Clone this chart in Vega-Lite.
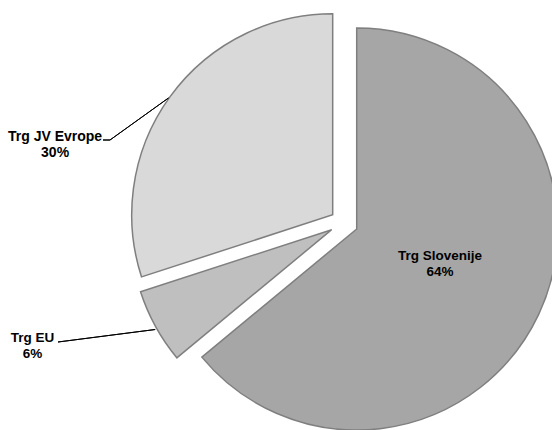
{
  "$schema": "https://vega.github.io/schema/vega-lite/v6.json",
  "width": 552,
  "height": 430,
  "padding": 0,
  "autosize": {"type": "none"},
  "background": "white",
  "config": {
    "view": {"stroke": null},
    "text": {"font": "Liberation Sans", "fontWeight": "bold", "fontSize": 13.5, "lineHeight": 16, "color": "#000000"}
  },
  "data": {
    "values": [
      {"market": "Trg Slovenije", "share": 64, "order": 1},
      {"market": "Trg EU", "share": 6, "order": 2},
      {"market": "Trg JV Evrope", "share": 30, "order": 3}
    ]
  },
  "transform": [
    {"stack": "share", "groupby": [], "sort": [{"field": "order", "order": "ascending"}], "as": ["start", "end"]},
    {"calculate": "(datum.start + datum.end) / 2", "as": "mid"},
    {"calculate": "[datum.market, datum.share + '%']", "as": "lines"}
  ],
  "layer": [
    {
      "transform": [{"filter": "datum.market === 'Trg Slovenije'"}],
      "layer": [
        {
          "mark": {"type": "arc", "radius": 201, "fill": "#a6a6a6", "stroke": "#7f7f7f", "strokeWidth": 1.5, "xOffset": 80.7, "yOffset": 14},
          "encoding": {
            "theta": {"field": "start", "type": "quantitative", "stack": null, "scale": {"domain": [0, 100]}},
            "theta2": {"field": "end"}
          }
        },
        {
          "mark": {"type": "text", "radius": 91, "xOffset": 80.7, "yOffset": 14, "dx": 1, "dy": -12, "align": "center", "baseline": "middle"},
          "encoding": {
            "theta": {"field": "mid", "type": "quantitative", "stack": null, "scale": {"domain": [0, 100]}},
            "text": {"field": "lines"}
          }
        }
      ]
    },
    {
      "transform": [{"filter": "datum.market === 'Trg EU'"}],
      "layer": [
        {
          "mark": {"type": "arc", "radius": 201, "fill": "#bfbfbf", "stroke": "#7f7f7f", "strokeWidth": 1.5, "xOffset": 55.7, "yOffset": 14.7},
          "encoding": {
            "theta": {"field": "start", "type": "quantitative", "stack": null, "scale": {"domain": [0, 100]}},
            "theta2": {"field": "end"}
          }
        },
        {
          "mark": {"type": "text", "radius": 201, "xOffset": 55.7, "yOffset": 14.7, "dx": -123, "dy": 11, "align": "center", "baseline": "middle"},
          "encoding": {
            "theta": {"field": "mid", "type": "quantitative", "stack": null, "scale": {"domain": [0, 100]}},
            "text": {"field": "lines"}
          }
        },
        {
          "mark": {"type": "arc", "theta": 1.443, "theta2": 1.443, "radius": 98, "radius2": 0, "fill": null, "stroke": "#000000", "strokeWidth": 1, "xOffset": -218, "yOffset": 127},
          "encoding": {}
        }
      ]
    },
    {
      "transform": [{"filter": "datum.market === 'Trg JV Evrope'"}],
      "layer": [
        {
          "mark": {"type": "arc", "radius": 201, "fill": "#d9d9d9", "stroke": "#7f7f7f", "strokeWidth": 1.5, "xOffset": 56.7, "yOffset": -0.2},
          "encoding": {
            "theta": {"field": "start", "type": "quantitative", "stack": null, "scale": {"domain": [0, 100]}},
            "theta2": {"field": "end"}
          }
        },
        {
          "mark": {"type": "text", "radius": 201, "xOffset": 56.7, "yOffset": -0.2, "dx": -115, "dy": 40, "align": "center", "baseline": "middle", "fontSize": 14},
          "encoding": {
            "theta": {"field": "mid", "type": "quantitative", "stack": null, "scale": {"domain": [0, 100]}},
            "text": {"field": "lines"}
          }
        },
        {
          "mark": {"type": "arc", "theta": 0.948, "theta2": 0.948, "radius": 72, "radius2": 0, "fill": null, "stroke": "#000000", "strokeWidth": 1, "xOffset": -166, "yOffset": -75},
          "encoding": {}
        },
        {
          "mark": {"type": "arc", "theta": 4.712, "theta2": 4.712, "radius": 7, "radius2": 0, "fill": null, "stroke": "#000000", "strokeWidth": 1, "xOffset": -166, "yOffset": -75},
          "encoding": {}
        }
      ]
    }
  ]
}
